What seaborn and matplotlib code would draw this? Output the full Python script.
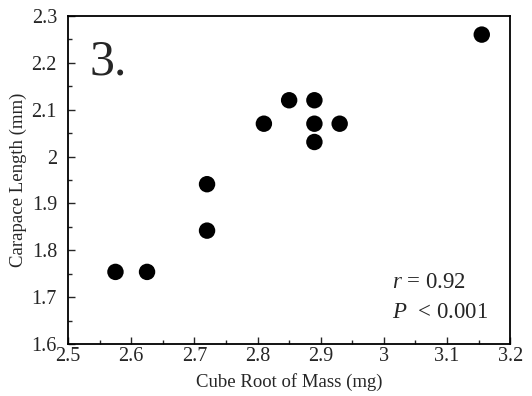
import numpy as np
import pandas as pd
import matplotlib
matplotlib.use("Agg")
import matplotlib.pyplot as plt
import seaborn as sns
from matplotlib.ticker import MultipleLocator

# data
cube_root_mass = [2.575, 2.625, 2.72, 2.72, 2.81, 2.85, 2.89, 2.89, 2.89, 2.93, 3.155]
carapace_len = [1.754, 1.754, 1.941, 1.842, 2.07, 2.12, 2.12, 2.07, 2.031, 2.07, 2.26]

df = pd.DataFrame({"mass": cube_root_mass, "length": carapace_len})

sns.set_style("ticks")
plt.rcParams['font.family'] = ['Liberation Serif', 'DejaVu Serif']
plt.rcParams['mathtext.fontset'] = 'custom'
plt.rcParams['mathtext.it'] = 'Liberation Serif:italic'
plt.rcParams['mathtext.rm'] = 'Liberation Serif'

fig = plt.figure(figsize=(5.32, 3.96), dpi=100)
ax = fig.add_axes([0.128, 0.131, 0.831, 0.829])

sns.scatterplot(x="mass", y="length", data=df, ax=ax, color="black",
                s=140, edgecolor="none", legend=False)

ax.set_xlim(2.5, 3.2)
ax.set_ylim(1.6, 2.3)
ax.xaxis.set_major_locator(MultipleLocator(0.1))
ax.xaxis.set_minor_locator(MultipleLocator(0.05))
ax.yaxis.set_major_locator(MultipleLocator(0.1))
ax.yaxis.set_minor_locator(MultipleLocator(0.05))
ax.set_xticklabels([f"{v:g}" for v in ax.get_xticks()])
ax.set_yticklabels([f"{v:g}" for v in ax.get_yticks()])
ax.tick_params(which="major", direction="in", length=5, width=1, labelsize=14.5)
ax.tick_params(axis="x", which="major", pad=2)
ax.tick_params(axis="y", which="major", pad=8)
ax.tick_params(which="minor", direction="in", length=3, width=1)
for sp in ax.spines.values():
    sp.set_visible(True)
    sp.set_linewidth(1.3)
    sp.set_color("black")

ax.set_xlabel("Cube Root of Mass (mg)", fontsize=13.5, labelpad=5)
ax.set_ylabel("Carapace Length (mm)", fontsize=13.5, labelpad=3)

ax.text(0.048, 0.93, "3.", transform=ax.transAxes, fontsize=36, va="top", ha="left")
ax.text(0.733, 0.171, r"$r$ = 0.92", transform=ax.transAxes, fontsize=16.5,
        ha="left", va="baseline")
ax.text(0.733, 0.079, r"$P$  < 0.001", transform=ax.transAxes, fontsize=16.5,
        ha="left", va="baseline")

plt.savefig("out.png", dpi=100)
